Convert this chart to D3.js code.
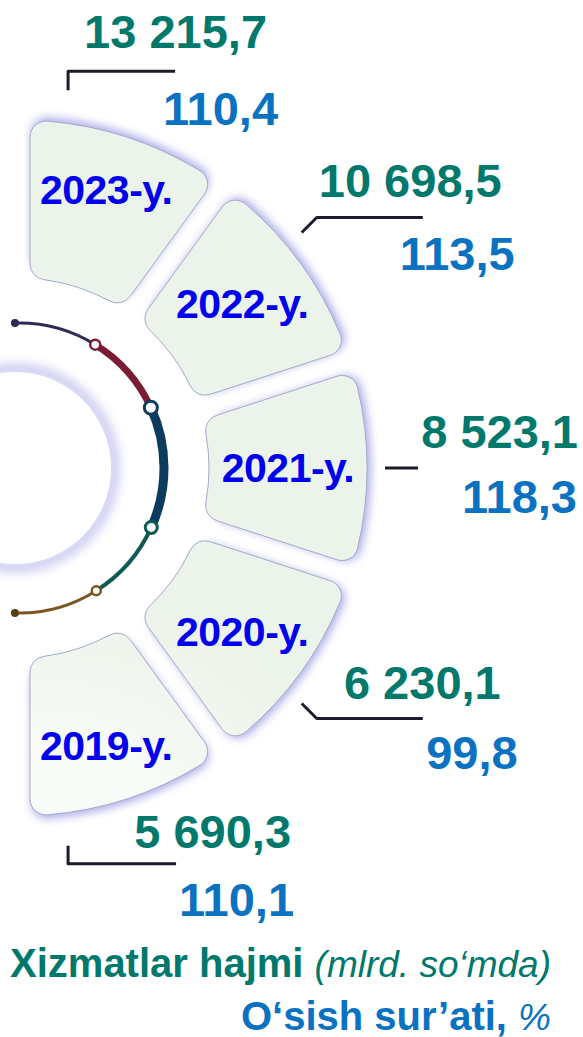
<!DOCTYPE html>
<html lang="uz">
<head>
<meta charset="UTF-8" />
<title>Xizmatlar hajmi</title>
<script src="https://d3js.org/d3.v7.min.js"></script>
<style>
  body { margin: 0; background: #fff; }
  svg { display: block; font-family: "Liberation Sans", Arial, sans-serif; }
</style>
</head>
<body>
<script>
    // Data (top to bottom on the chart: 2023 ... 2019)
    var years = ["2023-y.", "2022-y.", "2021-y.", "2020-y.", "2019-y."];
    var volume = [13215.7, 10698.5, 8523.1, 6230.1, 5690.3];   // mlrd. so'm
    var growth = [110.4, 113.5, 118.3, 99.8, 110.1];          // %

    var w = 583;
    var h = 1037;
    var cx = 19, cy = 468;
    var inner = 190, outer = 348;

    var svg = d3.select("body")
        .append("svg")
        .attr("width", w)
        .attr("height", h);

    var defs = svg.append("defs");
    defs.append("filter").attr("id", "glow")
        .attr("x", "-30%").attr("y", "-30%").attr("width", "160%").attr("height", "160%")
        .append("feGaussianBlur").attr("stdDeviation", 4);
    defs.append("filter").attr("id", "glow2")
        .attr("x", "-30%").attr("y", "-30%").attr("width", "160%").attr("height", "160%")
        .append("feGaussianBlur").attr("stdDeviation", 6);

    var grad = defs.append("radialGradient").attr("id", "wedgeFill")
        .attr("gradientUnits", "userSpaceOnUse")
        .attr("cx", cx).attr("cy", cy).attr("r", outer);
    grad.append("stop").attr("offset", "55%").attr("stop-color", "#f8fbf7");
    grad.append("stop").attr("offset", "80%").attr("stop-color", "#f1f6ef");
    grad.append("stop").attr("offset", "100%").attr("stop-color", "#ecf3ea");

    // angular scale: half circle, top to bottom (d3 angles, clockwise from 12 o'clock)
    var angle = d3.scaleBand()
        .domain(years)
        .range([0, Math.PI]);

    var g = svg.append("g").attr("transform", "translate(" + cx + "," + cy + ")");

    // inner circle with soft blue glow
    g.append("circle")
        .attr("cx", -4).attr("r", 99)
        .attr("fill", "none")
        .attr("stroke", "#6b6bd6")
        .attr("stroke-width", 6)
        .attr("opacity", 0.65)
        .attr("filter", "url(#glow2)");
    g.append("circle")
        .attr("cx", -4).attr("r", 96)
        .attr("fill", "#fff");

    // wedges
    var arc = d3.arc()
        .innerRadius(inner)
        .outerRadius(outer)
        .padRadius(300)
        .padAngle(22 / 300)
        .cornerRadius(16)
        .startAngle(function(d) { return angle(d); })
        .endAngle(function(d) { return angle(d) + angle.bandwidth(); });

    var shadowArc = d3.arc()
        .innerRadius(inner + 8)
        .outerRadius(outer + 4)
        .padRadius(300)
        .padAngle(24 / 300)
        .cornerRadius(16)
        .startAngle(function(d) { return angle(d); })
        .endAngle(function(d) { return angle(d) + angle.bandwidth(); });

    g.selectAll("path.shadow")
        .data(years)
        .enter()
        .append("path")
        .attr("class", "shadow")
        .attr("d", shadowArc)
        .attr("fill", "#7c7cdc")
        .attr("opacity", 0.6)
        .attr("filter", "url(#glow)");

    g.selectAll("path.wedge")
        .data(years)
        .enter()
        .append("path")
        .attr("class", "wedge")
        .attr("d", arc)
        .attr("fill", "url(#wedgeFill)")
        .attr("stroke", "#a3aacb")
        .attr("stroke-width", 1);

    // decorative coloured ring (d3 angles in degrees)
    var ringR = 145;
    var ring = [
        { a0: -1.6, a1: 31.7, color: "#2d2a55", width: 3 },
        { a0: 31.7, a1: 65.4, color: "#7a1c34", width: 7 },
        { a0: 65.4, a1: 114.2, color: "#0d3b5e", width: 9 },
        { a0: 114.2, a1: 147.8, color: "#0f5a55", width: 4 },
        { a0: 147.8, a1: 181.6, color: "#7b5420", width: 3 }
    ];
    var rad = Math.PI / 180;
    function polar(r, a) { // d3 angle in radians
        return [r * Math.sin(a), -r * Math.cos(a)];
    }

    g.selectAll("path.ring")
        .data(ring)
        .enter()
        .append("path")
        .attr("class", "ring")
        .attr("d", function(d) {
            return d3.arc()
                .innerRadius(ringR - d.width / 2)
                .outerRadius(ringR + d.width / 2)
                .startAngle(d.a0 * rad)
                .endAngle(d.a1 * rad)();
        })
        .attr("fill", function(d) { return d.color; });

    // end dots
    [{ a: -1.6, c: "#2d2a55" }, { a: 181.6, c: "#5c3c12" }].forEach(function(p) {
        var pt = polar(ringR, p.a * rad);
        g.append("circle").attr("cx", pt[0]).attr("cy", pt[1]).attr("r", 4).attr("fill", p.c);
    });
    // joints
    var joints = [
        { a: 31.7, c: "#7a1c34", r: 5, sw: 2.5 },
        { a: 65.4, c: "#0d3b5e", r: 6.5, sw: 3 },
        { a: 114.2, c: "#0f5a55", r: 6, sw: 3 },
        { a: 147.8, c: "#7b5420", r: 4.5, sw: 2.5 }
    ];
    joints.forEach(function(p) {
        var pt = polar(ringR, p.a * rad);
        g.append("circle").attr("cx", pt[0]).attr("cy", pt[1])
            .attr("r", p.r).attr("fill", "#fff")
            .attr("stroke", p.c).attr("stroke-width", p.sw);
    });

    // year labels
    g.selectAll("text.year")
        .data(years)
        .enter()
        .append("text")
        .attr("class", "year")
        .attr("transform", function(d) {
            var a = angle(d) + angle.bandwidth() / 2;
            var c = Math.cos(a);
            var r = 272 + 22 * c * c;
            var p = polar(r, a);
            return "translate(" + (p[0] - 3) + "," + (p[1] + 14) + ")";
        })
        .attr("text-anchor", "middle")
        .attr("font-size", 41)
        .attr("font-weight", "bold")
        .attr("letter-spacing", -0.5)
        .attr("fill", "#0000ee")
        .text(function(d) { return d; });

    // leaders and value labels (layout per position, top to bottom)
    var leaders = [
        { ang: 7.4,  r: 381, elbow: [0, -19],  run: 107, g: [92, -23],  b: [103, 54] },
        { ang: 50.2, r: 368, elbow: [15, -15], run: 106, g: [79, -20],  b: [92, 53] },
        { ang: 90,   r: 366, elbow: [0, 0],    run: 33,  g: [160, -20], b: [159, 45] },
        { ang: 129.8, r: 368, elbow: [15, 15], run: 106, g: [78, -20],  b: [95, 50] },
        { ang: 172.6, r: 381, elbow: [0, 18],  run: 108, g: [115, -16], b: [118, 52] }
    ];

    var fmt = d3.formatLocale({ decimal: ",", thousands: " ", grouping: [3], currency: ["", ""] });
    var fmtVol = fmt.format(",.1f");
    var fmtPct = fmt.format(".1f");

    years.forEach(function(y, i) {
        var L = leaders[i];
        var s = polar(L.r, L.ang * rad);
        var e1 = [s[0] + L.elbow[0], s[1] + L.elbow[1]];
        var e2 = [e1[0] + L.run, e1[1]];
        g.append("path")
            .attr("d", d3.line()([s, e1, e2]))
            .attr("fill", "none")
            .attr("stroke", "#1b1b2b")
            .attr("stroke-width", 3)
            .attr("stroke-linejoin", "round");

        g.append("text")
            .attr("x", e2[0] + L.g[0])
            .attr("y", e2[1] + L.g[1])
            .attr("text-anchor", "end")
            .attr("font-size", 47)
            .attr("font-weight", "bold")
            .attr("fill", "#00786c")
            .text(fmtVol(volume[i]));

        g.append("text")
            .attr("x", e2[0] + L.b[0])
            .attr("y", e2[1] + L.b[1])
            .attr("text-anchor", "end")
            .attr("font-size", 47)
            .attr("font-weight", "bold")
            .attr("fill", "#0b72c2")
            .text(fmtPct(growth[i]));
    });

    // legend / footer
    var t1 = svg.append("text")
        .attr("x", 551).attr("y", 977)
        .attr("text-anchor", "end")
        .attr("fill", "#00786c");
    t1.append("tspan").attr("font-size", 40).attr("font-weight", "bold").text("Xizmatlar hajmi ");
    t1.append("tspan").attr("font-size", 37).attr("font-style", "italic").text("(mlrd. so‘mda)");

    var t2 = svg.append("text")
        .attr("x", 551).attr("y", 1030)
        .attr("text-anchor", "end")
        .attr("fill", "#0b72c2");
    t2.append("tspan").attr("font-size", 40).attr("font-weight", "bold").text("O‘sish sur’ati, ");
    t2.append("tspan").attr("font-size", 37).attr("font-style", "italic").text("%");
</script>
</body>
</html>
